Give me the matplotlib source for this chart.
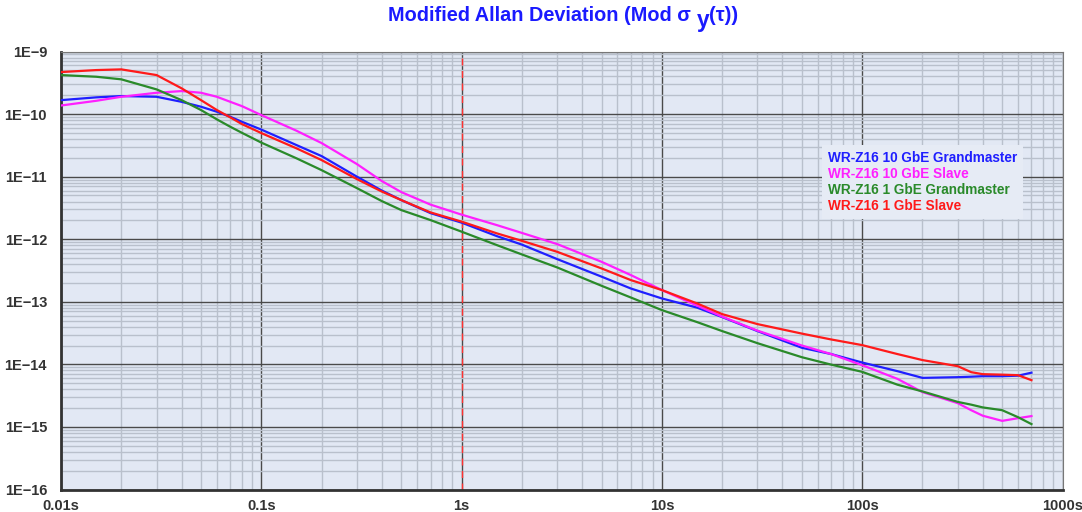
import matplotlib
matplotlib.use("Agg")
import matplotlib.pyplot as plt
from matplotlib.ticker import LogLocator, FixedLocator, FixedFormatter, NullFormatter

plt.rcParams['font.family'] = ['Liberation Sans', 'DejaVu Sans']

# Averaging times (s)
tau = [0.01, 0.015, 0.02, 0.03, 0.04, 0.05, 0.06, 0.07, 0.08, 0.1, 0.15, 0.2,
       0.3, 0.4, 0.5, 0.7, 1, 1.5, 2, 3, 5, 7, 10, 15, 20, 30, 50, 70, 100,
       150, 200, 300, 350, 400, 500, 600, 700]

# Modified Allan deviation for each link
gm_10g = [1.67e-10, 1.85e-10, 1.94e-10, 1.89e-10, 1.57e-10, 1.31e-10, 1.09e-10,
          9.05e-11, 7.53e-11, 5.65e-11, 3.19e-11, 2.13e-11, 1.00e-11, 5.98e-12,
          4.22e-12, 2.61e-12, 1.84e-12, 1.12e-12, 8.2e-13, 4.81e-13, 2.52e-13,
          1.63e-13, 1.13e-13, 8.06e-14, 5.69e-14, 3.4e-14, 1.84e-14, 1.46e-14,
          1.07e-14, 7.78e-15, 6.08e-15, 6.24e-15, 6.35e-15, 6.47e-15, 6.47e-15,
          6.59e-15, 7.36e-15]
slave_10g = [1.37e-10, 1.63e-10, 1.89e-10, 2.19e-10, 2.33e-10, 2.19e-10, 1.89e-10,
             1.57e-10, 1.34e-10, 9.64e-11, 5.41e-11, 3.44e-11, 1.59e-11, 8.49e-12,
             5.66e-12, 3.57e-12, 2.47e-12, 1.68e-12, 1.26e-12, 8.36e-13, 4.35e-13,
             2.67e-13, 1.54e-13, 8.68e-14, 5.79e-14, 3.46e-14, 2.0e-14, 1.46e-14,
             9.7e-15, 5.86e-15, 3.6e-15, 2.4e-15, 1.85e-15, 1.51e-15, 1.25e-15,
             1.38e-15, 1.49e-15]
gm_1g = [4.20e-10, 3.95e-10, 3.59e-10, 2.48e-10, 1.67e-10, 1.16e-10, 8.23e-11,
         6.27e-11, 5.02e-11, 3.50e-11, 1.96e-11, 1.27e-11, 6.56e-12, 4.06e-12,
         2.92e-12, 2.02e-12, 1.32e-12, 8.05e-13, 5.71e-13, 3.54e-13, 1.8e-13,
         1.17e-13, 7.36e-14, 4.73e-14, 3.4e-14, 2.18e-14, 1.3e-14, 9.9e-15,
         7.59e-15, 4.73e-15, 3.69e-15, 2.51e-15, 2.27e-15, 2.05e-15, 1.85e-15,
         1.43e-15, 1.11e-15]
slave_1g = [4.69e-10, 5.05e-10, 5.18e-10, 4.20e-10, 2.58e-10, 1.67e-10, 1.16e-10,
            8.86e-11, 6.92e-11, 4.97e-11, 2.83e-11, 1.84e-11, 9.14e-12, 5.77e-12,
            4.22e-12, 2.68e-12, 1.91e-12, 1.24e-12, 9.42e-13, 6.29e-13, 3.41e-13,
            2.22e-13, 1.54e-13, 9.4e-14, 6.35e-14, 4.4e-14, 3.1e-14, 2.5e-14,
            2.03e-14, 1.46e-14, 1.17e-14, 9.35e-15, 7.5e-15, 6.97e-15, 6.84e-15,
            6.71e-15, 5.59e-15]

series = [
    ("WR-Z16 10 GbE Grandmaster", gm_10g, "#1f1fff"),
    ("WR-Z16 10 GbE Slave", slave_10g, "#ff1fff"),
    ("WR-Z16 1 GbE Grandmaster", gm_1g, "#2a8a2a"),
    ("WR-Z16 1 GbE Slave", slave_1g, "#ff1a1a"),
]

x_ticks = [0.01, 0.1, 1, 10, 100, 1000]
x_labels = ["0.01s", "0.1s", "1s", "10s", "100s", "1000s"]
y_ticks = [1e-16, 1e-15, 1e-14, 1e-13, 1e-12, 1e-11, 1e-10, 1e-9]
y_labels = ["1E\u221216", "1E\u221215", "1E\u221214", "1E\u221213",
            "1E\u221212", "1E\u221211", "1E\u221210", "1E\u22129"]

W, H = 1082, 512
fig = plt.figure(figsize=(W / 100, H / 100), dpi=100)
fig.patch.set_facecolor("white")
ax = fig.add_axes([61 / W, 1 - 489.5 / H, (1062.5 - 61) / W, (489.5 - 51.5) / H])
ax.set_facecolor("#e2e8f4")
ax.set_xscale("log")
ax.set_yscale("log")
ax.set_xlim(0.01, 1000)
ax.set_ylim(1e-16, 1e-9)

ax.xaxis.set_major_locator(FixedLocator(x_ticks))
ax.xaxis.set_major_formatter(FixedFormatter(x_labels))
ax.yaxis.set_major_locator(FixedLocator(y_ticks))
ax.yaxis.set_major_formatter(FixedFormatter(y_labels))
ax.xaxis.set_minor_locator(LogLocator(base=10, subs=range(2, 10), numticks=20))
ax.yaxis.set_minor_locator(LogLocator(base=10, subs=range(2, 10), numticks=20))
ax.xaxis.set_minor_formatter(NullFormatter())
ax.yaxis.set_minor_formatter(NullFormatter())

ax.grid(True, which="minor", color="#b9c0cc", linewidth=1.0)
ax.grid(True, which="major", color="#4a4a4a", linewidth=1.0)
ax.set_axisbelow(True)

ax.tick_params(which="both", length=0)
ax.tick_params(axis="x", pad=7)
ax.tick_params(axis="y", pad=10)
for lbl in ax.get_xticklabels() + ax.get_yticklabels():
    lbl.set_fontsize(10.5)
    lbl.set_fontweight("bold")
    lbl.set_color("#333333")

for side in ("left", "bottom"):
    ax.spines[side].set_linewidth(2.0)
    ax.spines[side].set_color("#333333")
for side in ("top", "right"):
    ax.spines[side].set_linewidth(0.8)
    ax.spines[side].set_color("#777777")

ax.axvline(1, color="#ff3030", linestyle=(0, (5, 4)), linewidth=1.0, zorder=2)

for name, vals, col in series:
    ax.plot(tau, vals, color=col, linewidth=1.6, label=name, zorder=3,
            solid_joinstyle="round")

leg = ax.legend(loc="upper left",
                bbox_to_anchor=((815 - 61) / (1062.5 - 61), 1 - (138 - 51.5) / (489.5 - 51.5)),
                handlelength=0, handletextpad=0, labelcolor="linecolor",
                frameon=True, fancybox=False, borderpad=0.45, labelspacing=0.14,
                prop={"family": "Liberation Sans", "weight": "bold", "size": 9.8})
leg.get_frame().set_facecolor("#e6ebf5")
leg.get_frame().set_edgecolor("none")
leg.get_frame().set_alpha(1.0)
for h in leg.legend_handles:
    h.set_visible(False)

# Title with a lowered, enlarged "y" subscript
fig.canvas.draw()
renderer = fig.canvas.get_renderer()
title_kw = dict(color="#1a1aff", fontweight="bold", fontsize=14.3, va="baseline")
x0 = 388 / W
yb = 1 - 21 / H
t1 = fig.text(x0, yb, "Modified Allan Deviation (Mod \u03c3 ", **title_kw)
bb = t1.get_window_extent(renderer)
t2 = fig.text(bb.x1 / W, yb - 6 / H, "y", **{**title_kw, "fontsize": 16.5})
bb2 = t2.get_window_extent(renderer)
fig.text(bb2.x1 / W, yb, "(\u03c4))", **title_kw)

fig.savefig("out.png", dpi=100, facecolor="white")
